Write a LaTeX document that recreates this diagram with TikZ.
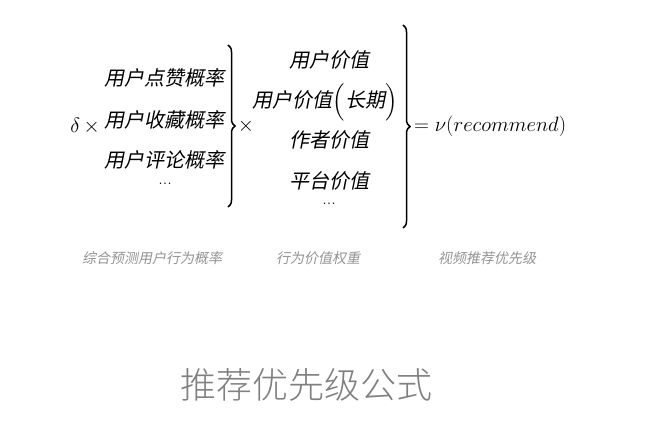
\documentclass[tikz,border=0pt]{standalone}
\usepackage{fontspec}
\usepackage{amsmath}
\usetikzlibrary{decorations.pathreplacing}
\newfontfamily\cjk[FakeSlant=0.2]{Noto Sans CJK SC}
\newfontfamily\cjkup{Noto Sans CJK SC Light}
\begin{document}
\begin{tikzpicture}[x=1pt,y=1pt,
  term/.style={inner sep=0pt,font=\fontsize{20}{24}\cjk},
  dots/.style={inner sep=0pt,font=\fontsize{18}{20}\selectfont},
  mathsym/.style={inner sep=0pt,font=\fontsize{20}{24}\selectfont},
  caption/.style={inner sep=0pt,text=black!42,font=\fontsize{14}{16}\cjk},
  bigbrace/.style={decorate,decoration={brace,amplitude=7pt},line width=1.5pt},
  title/.style={inner sep=0pt,text=black!50,font=\fontsize{36}{40}\cjkup}]
\useasboundingbox (0,0) rectangle (660,441);
\fill[white] (0,0) rectangle (660,441);
% left group
\node[mathsym] (delta) at (85,315) {$\delta\,\times$};
\node[term] (l1) at (164,363) {用户点赞概率};
\node[term] (l2) at (164,321) {用户收藏概率};
\node[term] (l3) at (164,281) {用户评论概率};
\node[dots] (l4) at (165,257) {...};
\draw[bigbrace] (228,396) -- (228,234);
\node[mathsym] (times) at (246,315) {$\times$};
% middle group
\node[term] (m1) at (329,381) {用户价值};
\node[term] (m2) at (325,341) {用户价值\smash{$\Big($}长期\smash{$\Big)$}};
\node[term] (m3) at (329,301) {作者价值};
\node[term] (m4) at (329,260) {平台价值};
\node[dots] (m5) at (329,237) {...};
\draw[bigbrace] (403,416) -- (403,213);
% result
\node[mathsym,anchor=west] (res) at (414,315) {$=\nu(recommend)$};
% captions
\node[caption] (c1) at (152,183) {综合预测用户行为概率};
\node[caption] (c2) at (318,183) {行为价值权重};
\node[caption] (c3) at (487,183) {视频推荐优先级};
% title
\node[title] (t) at (306,56) {推荐优先级公式};
\end{tikzpicture}
\end{document}
